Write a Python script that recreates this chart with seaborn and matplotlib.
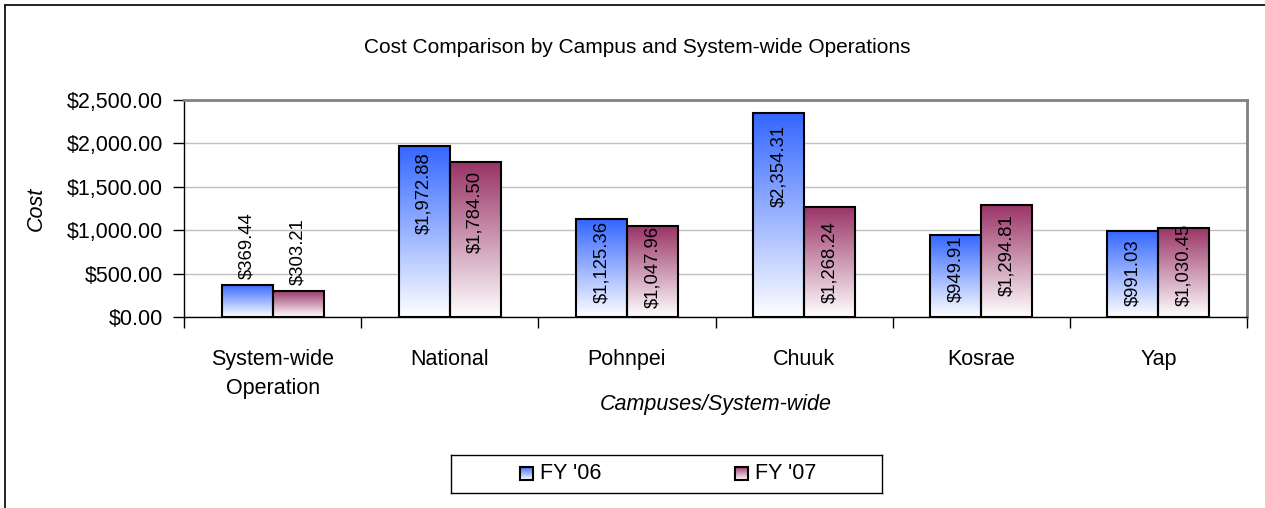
import matplotlib.colors as mcolors
import matplotlib.pyplot as plt
import numpy as np
import pandas as pd
import seaborn as sns
from matplotlib.lines import Line2D
from matplotlib.patches import Rectangle
from matplotlib.ticker import FuncFormatter


CAMPUSES = ["System-wide\nOperation", "National", "Pohnpei", "Chuuk", "Kosrae", "Yap"]
YEARS = ["FY '06", "FY '07"]
FY06 = [369.44, 1972.88, 1125.36, 2354.31, 949.91, 991.03]
FY07 = [303.21, 1784.50, 1047.96, 1268.24, 1294.81, 1030.45]
Y_TICKS = [0, 500, 1000, 1500, 2000, 2500]

# where the data labels sit (centre of the rotated text, in dollars)
LABEL_Y06 = [824, 1429, 634, 1740, 559, 513]
LABEL_Y07 = [755, 1210, 576, 634, 714, 599]

TOP_COLORS = ["#3366FF", "#993366"]
FONT = ["Liberation Sans", "DejaVu Sans"]
W, H = 1265, 508


def gradient_fill(ax, patch, color):
    # excel style "one colour" gradient: full colour at the top, white at the bottom
    x, y = patch.get_x(), patch.get_y()
    w, h = patch.get_width(), patch.get_height()
    top = np.array(mcolors.to_rgb(color))
    t = np.linspace(0, 1, 256)[:, None]
    rgb = top * (1 - t) + np.ones(3) * t
    img = ax.imshow(
        rgb[:, None, :],
        extent=(x, x + w, y, y + h),
        origin="upper",
        aspect="auto",
        interpolation="bilinear",
        zorder=1.5,
    )
    img.set_clip_path(patch)
    patch.set_facecolor("none")
    patch.set_zorder(2)


def main() -> None:
    df = pd.DataFrame(
        {
            "campus": CAMPUSES * 2,
            "year": [YEARS[0]] * len(FY06) + [YEARS[1]] * len(FY07),
            "cost": FY06 + FY07,
        }
    )

    sns.set_theme(style="white")
    plt.rcParams["font.family"] = FONT
    plt.rcParams["text.color"] = "black"
    plt.rcParams["axes.labelcolor"] = "black"
    plt.rcParams["xtick.color"] = "black"
    plt.rcParams["ytick.color"] = "black"

    fig = plt.figure(figsize=(W / 100, H / 100), dpi=100)
    ax = fig.add_axes([184 / W, 1 - 317 / H, (1247 - 184) / W, 217 / H])

    sns.barplot(
        data=df,
        x="campus",
        y="cost",
        hue="year",
        palette=TOP_COLORS,
        width=0.576,
        gap=0,
        edgecolor="black",
        linewidth=1.5,
        errorbar=None,
        legend=False,
        ax=ax,
    )

    label_rows = [LABEL_Y06, LABEL_Y07]
    values = [FY06, FY07]
    for cont, color, ly, vals in zip(ax.containers, TOP_COLORS, label_rows, values):
        for patch, y, v in zip(cont.patches, ly, vals):
            gradient_fill(ax, patch, color)
            ax.text(
                patch.get_x() + patch.get_width() / 2,
                y,
                f"${v:,.2f}",
                rotation=90,
                ha="center",
                va="center",
                fontsize=13.3,
                color="black",
                zorder=3,
            )

    ax.set_xlim(-0.5, len(CAMPUSES) - 0.5)
    ax.set_ylim(0, 2500)
    ax.set_yticks(Y_TICKS)
    ax.yaxis.set_major_formatter(FuncFormatter(lambda v, _: f"${v:,.2f}"))

    ax.set_axisbelow(True)
    ax.yaxis.grid(True, color="#C0C0C0", linewidth=1)
    ax.xaxis.grid(False)

    for side in ("left", "bottom"):
        ax.spines[side].set_color("black")
        ax.spines[side].set_linewidth(1)
    for side in ("top", "right"):
        ax.spines[side].set_color("#808080")
        ax.spines[side].set_linewidth(2)

    ax.set_xticks(range(len(CAMPUSES)))
    ax.set_xticklabels(CAMPUSES)
    ax.set_xticks(np.arange(-0.5, len(CAMPUSES), 1), minor=True)
    ax.tick_params(axis="x", which="major", length=0, pad=23, labelsize=15.5,
                   labelcolor="black")
    ax.tick_params(axis="x", which="minor", length=8, width=1, color="black",
                   direction="out", bottom=True)
    ax.tick_params(axis="y", length=8, width=1, color="black", direction="out",
                   left=True, pad=7, labelsize=15.5, labelcolor="black")
    for lbl in ax.get_xticklabels():
        lbl.set_linespacing(1.5)

    ax.set_xlabel("Campuses/System-wide", fontsize=15.5, style="italic", color="black")
    ax.xaxis.set_label_coords(0.5, (317 - 394) / 217)
    ax.set_ylabel("Cost", fontsize=15.5, style="italic", color="black")
    ax.yaxis.set_label_coords((47 - 184) / 1063, 0.5)

    fig.text(637.5 / W, 1 - 47 / H, "Cost Comparison by Campus and System-wide Operations",
             ha="center", va="center", fontsize=15, color="black")

    # legend box drawn by hand so the swatches can carry the gradient
    lax = fig.add_axes([451 / W, 15 / H, 431 / W, 38 / H])
    lax.set_xticks([])
    lax.set_yticks([])
    for sp in lax.spines.values():
        sp.set_color("black")
        sp.set_linewidth(1)
    for x0, name, color in zip([69, 284], YEARS, TOP_COLORS):
        sw = Rectangle((x0, 13), 13, 13, edgecolor="black", linewidth=1.5, facecolor=color)
        lax.add_patch(sw)
        gradient_fill(lax, sw, color)
        lax.text(x0 + 20, 19.5, name, ha="left", va="center", fontsize=15.5, color="black")
    lax.set_xlim(0, 431)
    lax.set_ylim(0, 38)

    # outer chart frame
    fig.add_artist(Line2D([5 / W, 5 / W], [0, 1 - 5 / H], color="black", lw=1.2,
                          transform=fig.transFigure))
    fig.add_artist(Line2D([5 / W, 1], [1 - 5 / H, 1 - 5 / H], color="black", lw=1.2,
                          transform=fig.transFigure))

    fig.savefig("out.png", dpi=100)


if __name__ == "__main__":
    main()
